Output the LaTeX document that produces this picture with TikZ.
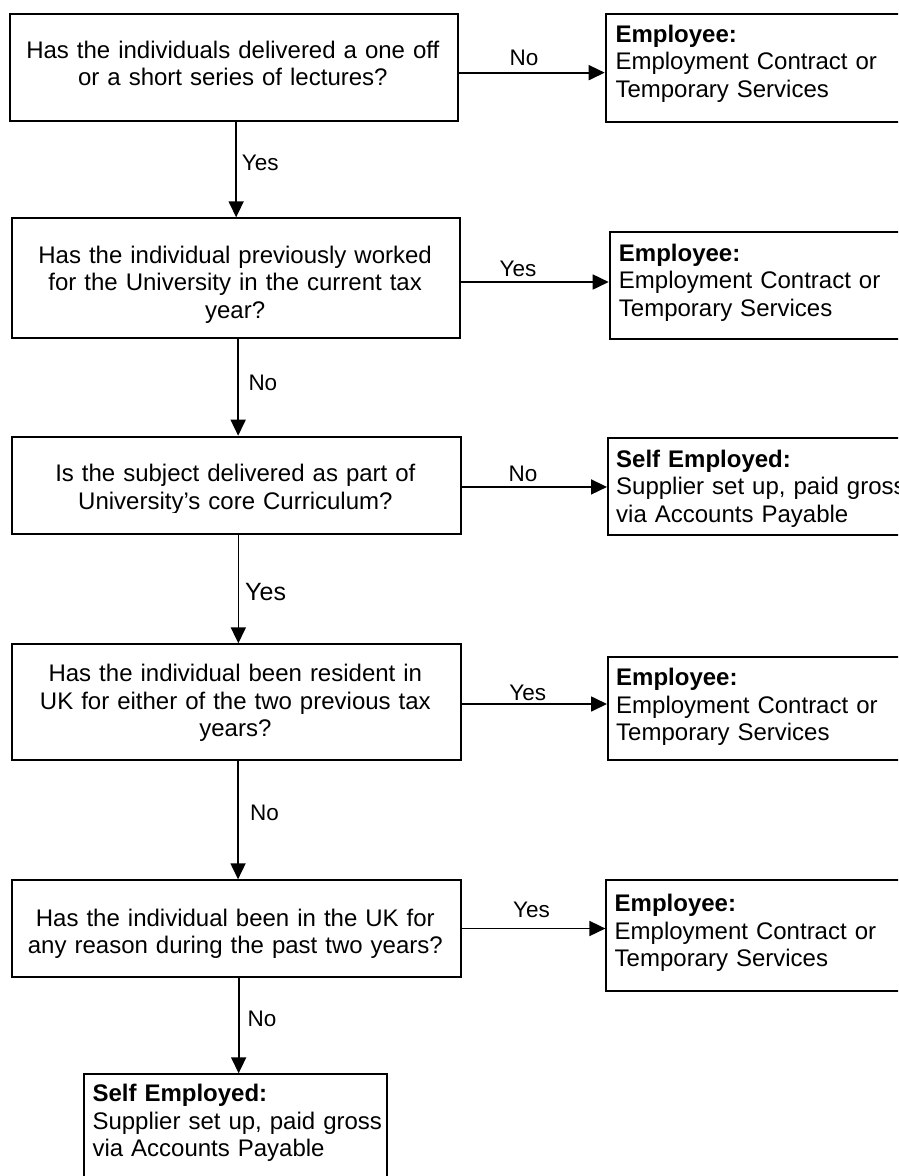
\documentclass[tikz,border=0pt]{standalone}
\usepackage{fontspec}
\setmainfont{Liberation Sans}
\usetikzlibrary{arrows.meta}
\begin{document}
\begin{tikzpicture}[x=1pt,y=-1pt,
  box/.style={draw=black, line width=2pt, rectangle, inner sep=0pt, anchor=north west},
  qtext/.style={anchor=base, text width=440pt, align=center, inner sep=0pt, font=\fontsize{24}{27.5}\selectfont},
  atext/.style={anchor=base west, text width=300pt, align=left, inner sep=0pt, font=\fontsize{24}{27.5}\selectfont},
  lbl/.style={inner sep=0pt, font=\fontsize{22.5}{26}\selectfont},
  arr/.style={line width=1.7pt, -{Triangle[length=16pt,width=15pt]}}
]
\useasboundingbox (0,0) rectangle (898,1176);
\fill[white] (0,0) rectangle (898,1176);
\clip (0,0) rectangle (898,1176);

% question boxes
\node[box, minimum width=448.3pt, minimum height=107.3pt] (q1) at (8.7,12.7) {};
\node[box, minimum width=448.3pt, minimum height=120pt]   (q2) at (11,217.3) {};
\node[box, minimum width=448.7pt, minimum height=97.3pt]  (q3) at (11,435.7) {};
\node[box, minimum width=448.7pt, minimum height=116pt]   (q4) at (11,643.3) {};
\node[box, minimum width=448.7pt, minimum height=96.4pt]  (q5) at (11,879.3) {};

% outcome boxes
\node[box, minimum width=310pt, minimum height=108.6pt] (r1) at (604.7,12.7) {};
\node[box, minimum width=306pt, minimum height=107pt]   (r2) at (608.7,230.7) {};
\node[box, minimum width=308pt, minimum height=97pt]    (r3) at (607,437) {};
\node[box, minimum width=308pt, minimum height=103pt]   (r4) at (607,656) {};
\node[box, minimum width=310pt, minimum height=111pt]   (r5) at (605.4,879) {};
\node[box, minimum width=303pt, minimum height=130pt]   (s)  at (82.7,1073.3) {};

% question texts
\node[qtext] (t1) at (232.85,58.3) {Has the individuals delivered a one off\\or a short series of lectures?};
\begin{scope}
\clip (q2.north west) rectangle ([yshift=17.3pt]q2.south east);
\node[qtext] (t2) at (235.15,263.3) {Has the individual previously worked\\for the University in the current tax\\year?};
\end{scope}
\begin{scope}
\clip (q3.north west) rectangle ([yshift=23pt]q3.south east);
\node[qtext] (t3) at (235.35,481.7) {Is the subject delivered as part of\\University’s core Curriculum?};
\end{scope}
\node[qtext] (t4) at (235.35,681.7) {Has the individual been resident in\\UK for either of the two previous tax\\years?};
\node[qtext] (t5) at (235.35,926) {Has the individual been in the UK for\\any reason during the past two years?};

% outcome texts
\node[atext] (u1) at (615.3,42.3) {\textbf{Employee:}\\Employment Contract or\\Temporary Services};
\node[atext] (u2) at (618.7,261) {\textbf{Employee:}\\Employment Contract or\\Temporary Services};
\begin{scope}
\clip (r3.north west) rectangle ([yshift=10pt]r3.south east);
\node[atext] (u3) at (616,467.3) {\textbf{Self Employed:}\\Supplier set up, paid gross\\via Accounts Payable};
\end{scope}
\node[atext] (u4) at (616,685.7) {\textbf{Employee:}\\Employment Contract or\\Temporary Services};
\node[atext] (u5) at (614.5,911.7) {\textbf{Employee:}\\Employment Contract or\\Temporary Services};
\node[atext] (us) at (92.3,1101.7) {\textbf{Self Employed:}\\Supplier set up, paid gross\\via Accounts Payable};

% horizontal connectors
\draw[arr] ([yshift=-5.3pt]q1.east) -- ([yshift=-5.3pt]q1.east -| r1.west);
\draw[arr] ([yshift=-3.7pt]q2.east) -- ([yshift=-3.7pt]q2.east -| r2.west);
\draw[arr] ([yshift=-1.6pt]q3.east) -- ([yshift=-1.6pt]q3.east -| r3.west);
\draw[arr] ([yshift=-1.7pt]q4.east) -- ([yshift=-1.7pt]q4.east -| r4.west);
\draw[arr] (q5.east) -- (q5.east -| r5.west);

% vertical connectors
\draw[arr] (q1.south -| q2.north) -- (q2.north);
\draw[arr] ([xshift=2pt]q2.south) -- ([xshift=2pt]q2.south |- q3.north);
\draw[arr] ([xshift=2pt]q3.south) -- ([xshift=2pt]q3.south |- q4.north);
\draw[arr] ([xshift=1.7pt]q4.south) -- ([xshift=1.7pt]q4.south |- q5.north);
\draw[arr] ([xshift=2.3pt]q5.south) -- ([xshift=2.3pt]q5.south |- s.north);

% labels
\node[lbl, anchor=base] (l1) at (524,65) {No};
\node[lbl, anchor=base] (l2) at (518,276) {Yes};
\node[lbl, anchor=base] (l3) at (523,481.7) {No};
\node[lbl, anchor=base] (l4) at (527.7,700) {Yes};
\node[lbl, anchor=base] (l5) at (531.5,917.7) {Yes};
\node[lbl, anchor=base west] (v1) at (241.7,170.7) {Yes};
\node[lbl, anchor=base west] (v2) at (248.3,390) {No};
\node[lbl, anchor=base west, font=\fontsize{25}{28}\selectfont] (v3) at (245,600) {Yes};
\node[lbl, anchor=base west] (v4) at (250,820) {No};
\node[lbl, anchor=base west] (v5) at (247.4,1026.7) {No};
\end{tikzpicture}
\end{document}
